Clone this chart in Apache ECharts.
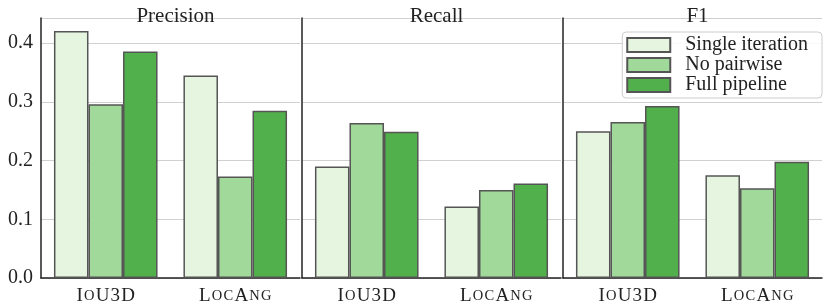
<!DOCTYPE html>
<html>
<head>
<meta charset="utf-8">
<script src="https://cdn.jsdelivr.net/npm/echarts@6/dist/echarts.min.js"></script>
<style>html,body{margin:0;padding:0;background:#fff;}#c{width:830px;height:308px;}</style>
</head>
<body>
<div id="c"></div>
<script>
const panels = ['Precision', 'Recall', 'F1'];
const categories = ['IoU3D', 'LocAng'];
const seriesNames = ['Single iteration', 'No pairwise', 'Full pipeline'];
const precisionValues = [[0.421, 0.345], [0.296, 0.173], [0.386, 0.285]];
const recallValues = [[0.190, 0.122], [0.264, 0.150], [0.249, 0.161]];
const f1Values = [[0.250, 0.175], [0.266, 0.153], [0.293, 0.198]];
const yTicks = [0.0, 0.1, 0.2, 0.3, 0.4];

const colors = ['#e5f5e0', '#a1d99b', '#52b04c'];
const FONT = "'Liberation Serif', 'Times New Roman', serif";
const panelData = [precisionValues, recallValues, f1Values];
const gridLefts = [41, 302, 563];
const gridW = 259, gridTop = 18, gridH = 260;

function smallCaps(s) {
  let out = '';
  for (const ch of s) {
    if (ch >= 'a' && ch <= 'z') out += '{s|' + ch.toUpperCase() + '}';
    else out += '{b|' + ch + '}';
  }
  return out;
}

const grids = [], xAxes = [], yAxes = [], series = [], titles = [];
panels.forEach((p, i) => {
  grids.push({left: gridLefts[i], top: gridTop, width: gridW, height: gridH, containLabel: false});
  titles.push({
    text: p, left: gridLefts[i] + gridW / 2, top: 1, textAlign: 'center',
    textStyle: {fontFamily: FONT, fontSize: 21, fontWeight: 'normal', color: '#222'}
  });
  xAxes.push({
    type: 'category', gridIndex: i, data: categories,
    axisTick: {show: false},
    axisLine: {lineStyle: {color: '#222', width: 1.5}},
    axisLabel: {
      interval: 0, hideOverlap: false,
      margin: 9,
      formatter: v => smallCaps(v),
      rich: {
        b: {fontFamily: FONT, fontSize: 19, color: '#222', padding: [0, 0.6]},
        s: {fontFamily: FONT, fontSize: 14.5, color: '#222', padding: [0, 0.6]}
      }
    }
  });
  yAxes.push({
    type: 'value', gridIndex: i, min: 0, max: 0.443, interval: 0.1,
    axisLine: {show: true, lineStyle: {color: '#222', width: 1.5}},
    axisTick: {show: false},
    splitLine: {show: true, lineStyle: {color: '#d0d0d0', width: 1.2}},
    axisLabel: {
      show: i === 0, showMaxLabel: false, margin: 8,
      fontFamily: FONT, fontSize: 20, color: '#222',
      formatter: v => yTicks.some(t => Math.abs(t - v) < 1e-9) ? v.toFixed(1) : ''
    }
  });
  seriesNames.forEach((n, k) => {
    series.push({
      name: n, type: 'bar', xAxisIndex: i, yAxisIndex: i,
      data: panelData[i][k],
      barGap: '0%', barCategoryGap: '20%',
      itemStyle: {color: colors[k], borderColor: '#555', borderWidth: 1.5},
      emphasis: {disabled: true}
    });
  });
});

const chart = echarts.init(document.getElementById('c'), null, {renderer: 'canvas'});
chart.setOption({
  animation: false,
  backgroundColor: '#fff',
  title: titles,
  grid: grids,
  xAxis: xAxes,
  yAxis: yAxes,
  series: series,
  legend: {
    data: seriesNames,
    orient: 'vertical',
    right: 8, top: 32,
    itemWidth: 43, itemHeight: 14, itemGap: 0,
    padding: [3, 14, 3, 4],
    borderColor: '#cccccc', borderWidth: 1, borderRadius: 4,
    backgroundColor: 'rgba(255,255,255,0.85)',
    icon: 'rect',
    selectedMode: false,
    textStyle: {fontFamily: FONT, fontSize: 20, color: '#222', padding: [0, 0, 0, 10]}
  }
});
</script>
</body>
</html>
